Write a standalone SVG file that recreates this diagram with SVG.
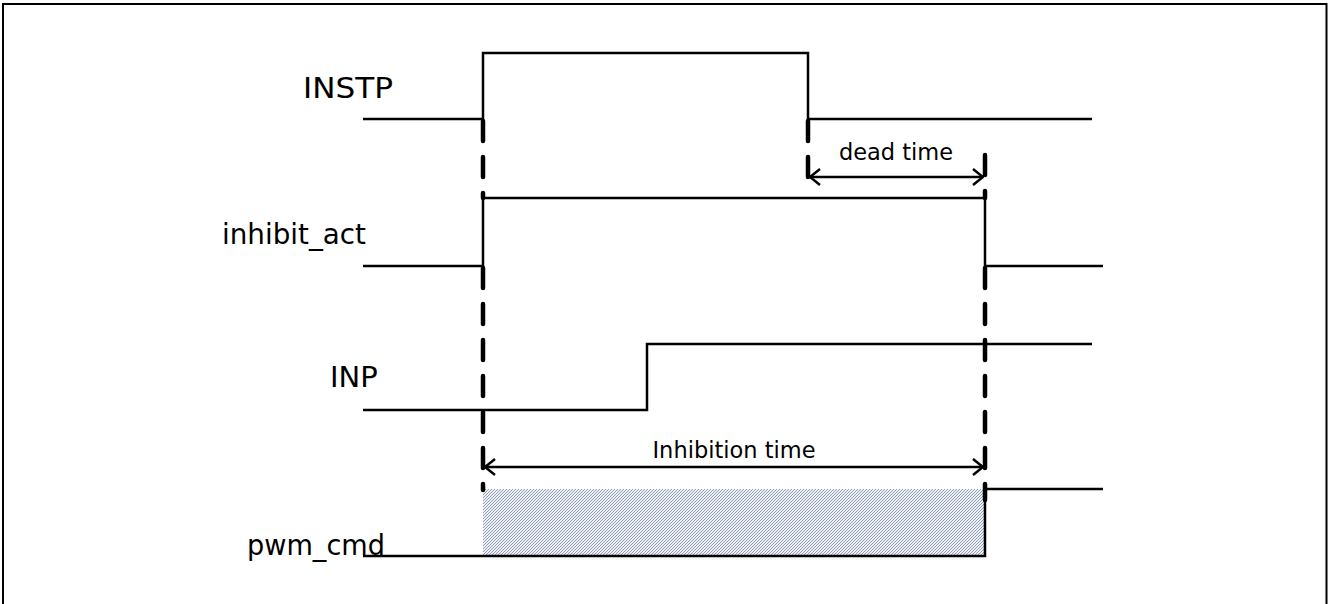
<svg xmlns="http://www.w3.org/2000/svg" width="1329" height="604" viewBox="0 0 1329 604">
<style>
.sig{fill:none;stroke:#000;stroke-width:2.5;stroke-linejoin:miter}
.dash{fill:none;stroke:#000;stroke-width:4.5;stroke-linecap:round;stroke-dasharray:20 16}
.dim{fill:none;stroke:#000;stroke-width:2.5}
.lbl{font-family:"DejaVu Sans",Verdana,sans-serif;font-size:29px;fill:#000}
.dt{font-family:"DejaVu Sans",Verdana,sans-serif;font-size:22.5px;fill:#000}
</style>
<defs>
<pattern id="hatch" width="3" height="3" patternUnits="userSpaceOnUse">
<rect width="3" height="3" fill="#eef0f4"/>
<path d="M-1,1 L1,-1 M0,3 L3,0 M2,4 L4,2" stroke="#8794ab" stroke-width="0.9"/>
</pattern>
<marker id="ah" viewBox="0 0 12 18" refX="11" refY="9" markerWidth="12" markerHeight="18" markerUnits="userSpaceOnUse" orient="auto-start-reverse">
<path d="M1,1 L11,9 L1,17" fill="none" stroke="#000" stroke-width="2.5"/>
</marker>
</defs>
<rect x="3" y="4" width="1323.5" height="610" fill="#fff" stroke="#000" stroke-width="2"/>
<g id="INSTP">
<text class="lbl" x="303" y="98" textLength="90" lengthAdjust="spacingAndGlyphs">INSTP</text>
<polyline class="sig" points="363,119 483,119 483,53 808,53 808,119 1092,119"/>
</g>
<g id="inhibit_act">
<text class="lbl" x="222" y="244" textLength="144" lengthAdjust="spacingAndGlyphs">inhibit_act</text>
<polyline class="sig" points="363,266 483,266 483,198 985,198 985,266 1103,266"/>
</g>
<g id="INP">
<text class="lbl" x="330" y="387">INP</text>
<polyline class="sig" points="363,410 647,410 647,344 1092,344"/>
</g>
<g id="pwm_cmd">
<text class="lbl" x="247" y="555" textLength="138" lengthAdjust="spacingAndGlyphs">pwm_cmd</text>
<rect x="483" y="489" width="502" height="67" fill="url(#hatch)"/>
<polyline class="sig" points="363,556 985,556 985,489 1103,489"/>
</g>
<g id="connectors">
<line class="dash" x1="483" y1="121" x2="483" y2="198"/>
<line class="dash" x1="483" y1="268" x2="483" y2="490"/>
<line class="dash" x1="808" y1="121" x2="808" y2="180"/>
<line class="dash" x1="985" y1="155" x2="985" y2="198"/>
<line class="dash" x1="985" y1="268" x2="985" y2="500"/>
<line class="dim" x1="810" y1="177" x2="983" y2="177" marker-start="url(#ah)" marker-end="url(#ah)"/>
<line class="dim" x1="485" y1="467" x2="983" y2="467" marker-start="url(#ah)" marker-end="url(#ah)"/>
<text class="dt" x="896" y="160" text-anchor="middle">dead time</text>
<text class="dt" x="734" y="458" text-anchor="middle">Inhibition time</text>
</g>
</svg>
